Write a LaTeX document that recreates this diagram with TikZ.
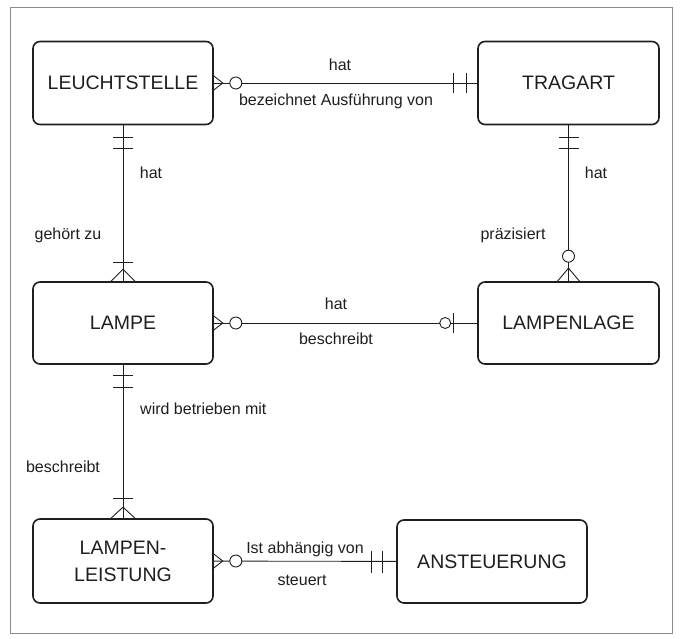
\documentclass[tikz,border=0pt]{standalone}
\usepackage{fontspec}
\setmainfont{Liberation Sans}
\usetikzlibrary{calc}
\definecolor{ink}{HTML}{1E1E1E}
\definecolor{framec}{HTML}{8A8A8A}
\begin{document}
\begin{tikzpicture}[x=1pt,y=-1pt,
  ent/.style={draw=ink, line width=1.6pt, rounded corners=7pt, minimum width=180pt,
    minimum height=83pt, inner sep=0pt, font=\fontsize{19.5}{27}\selectfont, align=center, text=ink},
  conn/.style={draw=ink, line width=0.9pt},
  lbl/.style={font=\fontsize{16}{19}\selectfont, text=ink, inner sep=0pt},
  oc/.style={draw=ink, line width=0.9pt, fill=white}]
\useasboundingbox (0,0) rectangle (680,639);
\draw[framec, line width=0.8pt] (10,7) rectangle (672,633);

% entities
\node[ent] (L) at (123,83) {LEUCHTSTELLE};
\node[ent, minimum width=181pt] (T) at (568.5,83) {TRAGART};
\node[ent, minimum height=82pt] (A) at (123,323) {LAMPE};
\node[ent, minimum width=181pt, minimum height=82pt] (G) at (568.5,323) {LAMPENLAGE};
\node[ent, minimum height=84pt] (P) at (123,561) {LAMPEN-\\LEISTUNG};
\node[ent, minimum width=190pt] (S) at (492,561.5) {ANSTEUERUNG};

% connectors
\draw[conn] (L) -- (T);
\draw[conn] (L) -- (A);
\draw[conn] (T) -- (G);
\draw[conn] (A) -- (G);
\draw[conn] (A) -- (P);
\draw[conn] (P) -- (S);

% LEUCHTSTELLE -- TRAGART ends
\draw[conn] ($(L.east)+(0,-7)$) -- ($(L.east)+(9,0)$) -- ($(L.east)+(0,7)$);
\draw[oc] ($(L.east)+(22,0)$) circle[radius=6pt];
\draw[conn] ($(T.west)+(-11,-10)$) -- ($(T.west)+(-11,10)$);
\draw[conn] ($(T.west)+(-24,-10)$) -- ($(T.west)+(-24,10)$);

% LEUCHTSTELLE -- LAMPE ends
\draw[conn] ($(L.south)+(-10,12)$) -- ($(L.south)+(10,12)$);
\draw[conn] ($(L.south)+(-10,23)$) -- ($(L.south)+(10,23)$);
\draw[conn] ($(A.north)+(-10,-19)$) -- ($(A.north)+(10,-19)$);
\draw[conn] ($(A.north)+(-12,0)$) -- ($(A.north)+(0,-12)$) -- ($(A.north)+(12,0)$);

% TRAGART -- LAMPENLAGE ends
\draw[conn] ($(T.south)+(-10,12)$) -- ($(T.south)+(10,12)$);
\draw[conn] ($(T.south)+(-10,23)$) -- ($(T.south)+(10,23)$);
\draw[conn] ($(G.north)+(-11,0)$) -- ($(G.north)+(0,-13)$) -- ($(G.north)+(11,0)$);
\draw[oc] ($(G.north)+(0,-25)$) circle[radius=6pt];

% LAMPE -- LAMPENLAGE ends
\draw[conn] ($(A.east)+(0,-7)$) -- ($(A.east)+(9,0)$) -- ($(A.east)+(0,7)$);
\draw[oc] ($(A.east)+(22,0)$) circle[radius=6pt];
\draw[conn] ($(G.west)+(-24,-10)$) -- ($(G.west)+(-24,10)$);
\draw[oc] ($(G.west)+(-32,0)$) circle[radius=5.5pt];

% LAMPE -- LAMPEN-LEISTUNG ends
\draw[conn] ($(A.south)+(-10,11)$) -- ($(A.south)+(10,11)$);
\draw[conn] ($(A.south)+(-10,23)$) -- ($(A.south)+(10,23)$);
\draw[conn] ($(P.north)+(-10,-20)$) -- ($(P.north)+(10,-20)$);
\draw[conn] ($(P.north)+(-12,0)$) -- ($(P.north)+(0,-11)$) -- ($(P.north)+(12,0)$);

% LAMPEN-LEISTUNG -- ANSTEUERUNG ends
\draw[conn] ($(P.east)+(0,-7)$) -- ($(P.east)+(9,0)$) -- ($(P.east)+(0,7)$);
\draw[oc] ($(P.east)+(22,0)$) circle[radius=6pt];
\draw[conn] ($(S.west)+(-14,-11)$) -- ($(S.west)+(-14,11)$);
\draw[conn] ($(S.west)+(-25,-11)$) -- ($(S.west)+(-25,11)$);

% labels
\node[lbl] (l1) at (340,65) {hat};
\node[lbl] (l2) at (336,101) {bezeichnet Ausführung von};
\node[lbl] (l3) at (151,173) {hat};
\node[lbl] (l4) at (68,235) {gehört zu};
\node[lbl] (l5) at (596,173) {hat};
\node[lbl] (l6) at (513,235) {präzisiert};
\node[lbl] (l7) at (336,304) {hat};
\node[lbl] (l8) at (336,339) {beschreibt};
\node[lbl, anchor=west] (l9) at (140,409) {wird betrieben mit};
\node[lbl] (l10) at (63,467) {beschreibt};
\node[lbl] (l11) at (305,549) {Ist abhängig von};
\node[lbl] (l12) at (302,580) {steuert};
\end{tikzpicture}
\end{document}
